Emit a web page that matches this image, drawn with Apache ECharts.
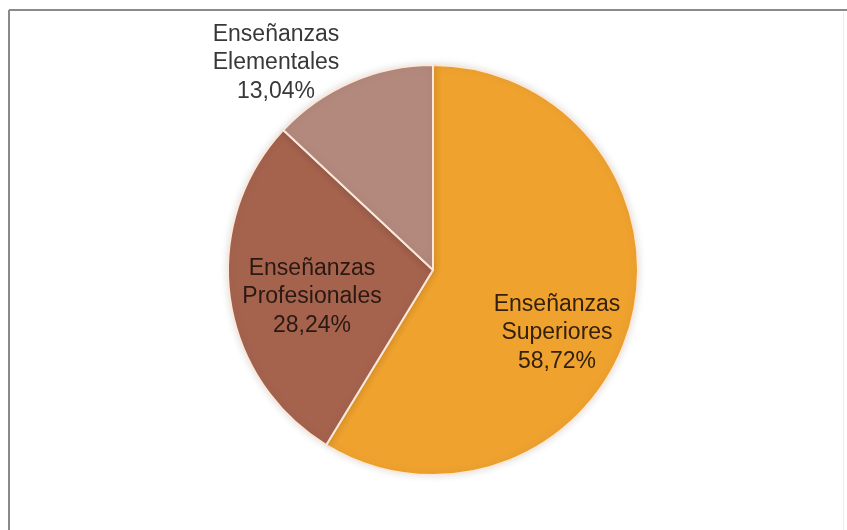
<!DOCTYPE html>
<html>
<head>
<meta charset="utf-8">
<script src="https://cdn.jsdelivr.net/npm/echarts@6/dist/echarts.min.js"></script>
<style>
  html, body { margin: 0; padding: 0; background: #fff; }
  #chart { width: 847px; height: 530px; }
</style>
</head>
<body>
<div id="chart"></div>
<script>
// Distribución del alumnado por tipo de enseñanza
const categories = ['Enseñanzas\nSuperiores', 'Enseñanzas\nProfesionales', 'Enseñanzas\nElementales'];
const values = [58.72, 28.24, 13.04];
const colors = ['#EFA22E', '#A5634E', '#B4897D'];
const labelColors = ['#33200e', '#2a1812', '#383838'];
// label anchor points (centre of each text block)
const labelSpots = [[557, 333], [312, 297], [276, 63]];

const chart = echarts.init(document.getElementById('chart'), null, { renderer: 'canvas' });

const fmt = v => v.toFixed(2).replace('.', ',') + '%';

chart.setOption({
  animation: false,
  graphic: [
    { type: 'line', shape: { x1: 9, y1: 10, x2: 847, y2: 10 }, style: { stroke: '#8a8a8a', lineWidth: 2 } },
    { type: 'line', shape: { x1: 9, y1: 10, x2: 9, y2: 530 }, style: { stroke: '#8a8a8a', lineWidth: 2 } },
    { type: 'line', shape: { x1: 843.5, y1: 12, x2: 843.5, y2: 530 }, style: { stroke: '#ececec', lineWidth: 1 } }
  ],
  series: [{
    type: 'pie',
    center: [433, 270],
    radius: [0, 205],
    startAngle: 90,
    clockwise: true,
    silent: true,
    itemStyle: {
      borderColor: '#fbe8da',
      borderWidth: 2,
      shadowBlur: 8,
      shadowColor: 'rgba(0,0,0,0.12)'
    },
    label: {
      show: true,
      position: 'inside',
      fontFamily: 'Liberation Sans, Arial, sans-serif',
      fontSize: 23,
      lineHeight: 28.5,
      align: 'center',
      verticalAlign: 'middle'
    },
    labelLine: { show: false },
    labelLayout: function (params) {
      const p = labelSpots[params.dataIndex];
      return { x: p[0], y: p[1], align: 'center', verticalAlign: 'middle' };
    },
    data: categories.map((name, i) => ({
      name: name,
      value: values[i],
      itemStyle: { color: colors[i] },
      label: {
        color: labelColors[i],
        formatter: name + '\n' + fmt(values[i])
      }
    }))
  }]
});
</script>
</body>
</html>
